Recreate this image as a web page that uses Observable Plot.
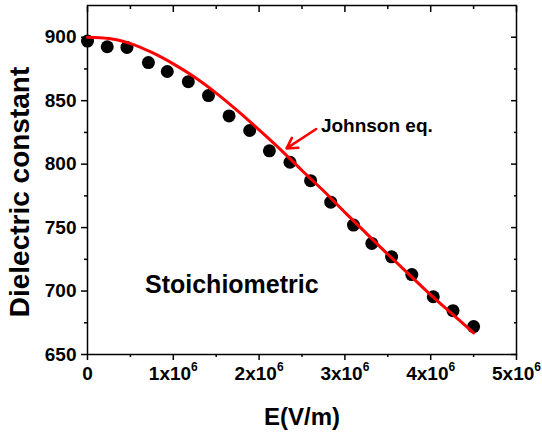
<!DOCTYPE html>
<html><head><meta charset="utf-8">
<script src="https://cdn.jsdelivr.net/npm/d3@7"></script>
<script src="https://cdn.jsdelivr.net/npm/@observablehq/plot@0.6"></script>
<style>
html,body{margin:0;padding:0;background:#fff;}
</style>
</head><body><div id="chart"></div>
<script>
// Measured data (electric field in V/m, dielectric constant)
const fieldE = [0, 0.23e6, 0.46e6, 0.71e6, 0.93e6, 1.175e6, 1.41e6, 1.65e6, 1.89e6, 2.12e6,
                2.36e6, 2.6e6, 2.835e6, 3.10e6, 3.314e6, 3.544e6, 3.78e6, 4.03e6, 4.26e6, 4.5e6];
const dielectric = [897, 892.5, 892, 880, 873, 865, 854, 838, 826.5, 810.5,
                    801.5, 787, 770, 752, 737.5, 727, 713, 695.5, 684.5, 672];
// Johnson equation fit curve
const fitE = [0, 0.25e6, 0.5e6, 0.75e6, 1.0e6, 1.25e6, 1.5e6, 1.75e6, 2.0e6, 2.25e6,
              2.5e6, 2.75e6, 3.0e6, 3.25e6, 3.5e6, 3.75e6, 4.0e6, 4.25e6, 4.5e6];
const fitEps = [900, 899, 895, 888, 879, 868.5, 856, 842, 827, 811.5,
                795, 779, 762, 745.5, 729, 713, 697, 682, 667];
// Ticks
const xMajorTicks = [0, 1e6, 2e6, 3e6, 4e6, 5e6];
const xTickLabels = ["0", "1x10^6", "2x10^6", "3x10^6", "4x10^6", "5x10^6"];
const xMinorTicks = [0.5e6, 1.5e6, 2.5e6, 3.5e6, 4.5e6];
const yMajorTicks = [650, 700, 750, 800, 850, 900];
const yMinorTicks = [675, 725, 775, 825, 875];
// Texts
const xTitle = "E(V/m)";
const yTitle = "Dielectric constant";
const sampleLabel = "Stoichiometric";
const fitLabel = "Johnson eq.";

const points = fieldE.map((e, i) => ({E: e, eps: dielectric[i]}));
const fit = fitE.map((e, i) => ({E: e, eps: fitEps[i]}));
const blank = () => "";
const font = "'Liberation Sans', Arial, Helvetica, sans-serif";

const svg = Plot.plot({
  width: 542,
  height: 434,
  marginLeft: 87,
  marginRight: 26,
  marginTop: 5,
  marginBottom: 80,
  style: {fontFamily: font, fontSize: "19px", fontWeight: "bold", color: "black", background: "white"},
  x: {type: "linear", domain: [0, 5e6]},
  y: {type: "linear", domain: [650, 925]},
  marks: [
    // bottom axis
    Plot.axisX({anchor: "bottom", ticks: xMajorTicks, tickSize: 6, tickPadding: 6, strokeWidth: 1.5,
      tickFormat: d => xTickLabels[xMajorTicks.indexOf(d)], label: null}),
    Plot.axisX({anchor: "bottom", ticks: xMinorTicks, tickSize: 3, strokeWidth: 1.5, tickFormat: blank, label: null}),
    // top axis (inward)
    Plot.axisX({anchor: "top", ticks: xMajorTicks, tickSize: -6, strokeWidth: 1.5, tickFormat: blank, label: null}),
    Plot.axisX({anchor: "top", ticks: xMinorTicks, tickSize: -3, strokeWidth: 1.5, tickFormat: blank, label: null}),
    // left axis
    Plot.axisY({anchor: "left", ticks: yMajorTicks, tickSize: 6, tickPadding: 5, strokeWidth: 1.5, label: null}),
    Plot.axisY({anchor: "left", ticks: yMinorTicks, tickSize: 3, strokeWidth: 1.5, tickFormat: blank, label: null}),
    // right axis (inward)
    Plot.axisY({anchor: "right", ticks: yMajorTicks, tickSize: -6, strokeWidth: 1.5, tickFormat: blank, label: null}),
    Plot.axisY({anchor: "right", ticks: yMinorTicks, tickSize: -3, strokeWidth: 1.5, tickFormat: blank, label: null}),
    Plot.frame({stroke: "black", strokeWidth: 1.5}),
    Plot.dot(points, {x: "E", y: "eps", r: 6.5, fill: "black", stroke: "none"}),
    Plot.line(fit, {x: "E", y: "eps", stroke: "#ff0000", strokeWidth: 3, curve: "monotone-x"}),
    Plot.arrow([0], {x1: 2.666e6, y1: 827.7, x2: 2.32e6, y2: 812.4, stroke: "#ff0000", strokeWidth: 2.5, headLength: 10}),
    Plot.text([fitLabel], {x: 2.72e6, y: 825.6, text: d => d, textAnchor: "start", lineAnchor: "bottom",
      fontSize: 19, fontWeight: "bold", fill: "black"}),
    Plot.text([sampleLabel], {x: 0.67e6, y: 698.3, text: d => d, textAnchor: "start", lineAnchor: "bottom",
      fontSize: 25, fontWeight: "bold", fill: "black"}),
    Plot.text([yTitle], {frameAnchor: "left", text: d => d, rotate: -90, textAnchor: "middle", lineAnchor: "middle",
      dx: -67, dy: 12, fontSize: 28, fontWeight: "bold", fill: "black"}),
    Plot.text([xTitle], {frameAnchor: "bottom", text: d => d, textAnchor: "middle", lineAnchor: "bottom", dy: 70,
      fontSize: 24, fontWeight: "bold", fill: "black", ariaLabel: "x-title"})
  ]
});

// superscripts in x tick labels
d3.select(svg).selectAll('g[aria-label="x-axis tick label"] text').each(function() {
  const t = this.textContent;
  if (t.includes("^")) {
    const [base, exp] = t.split("^");
    const s = d3.select(this);
    s.text(base);
    s.append("tspan").attr("dy", -9).attr("font-size", 12).text(exp);
  }
});
// smaller parentheses in x title
const xt = d3.select(svg).select('g[aria-label="x-title"] text');
if (!xt.empty()) {
  const parts = xTitle.match(/[()]|[^()]+/g);
  xt.text(null);
  parts.forEach(p => {
    const ts = xt.append("tspan").text(p);
    if (p === "(" || p === ")") ts.attr("font-size", 18);
  });
}
document.getElementById("chart").appendChild(svg);
</script>
</body></html>
